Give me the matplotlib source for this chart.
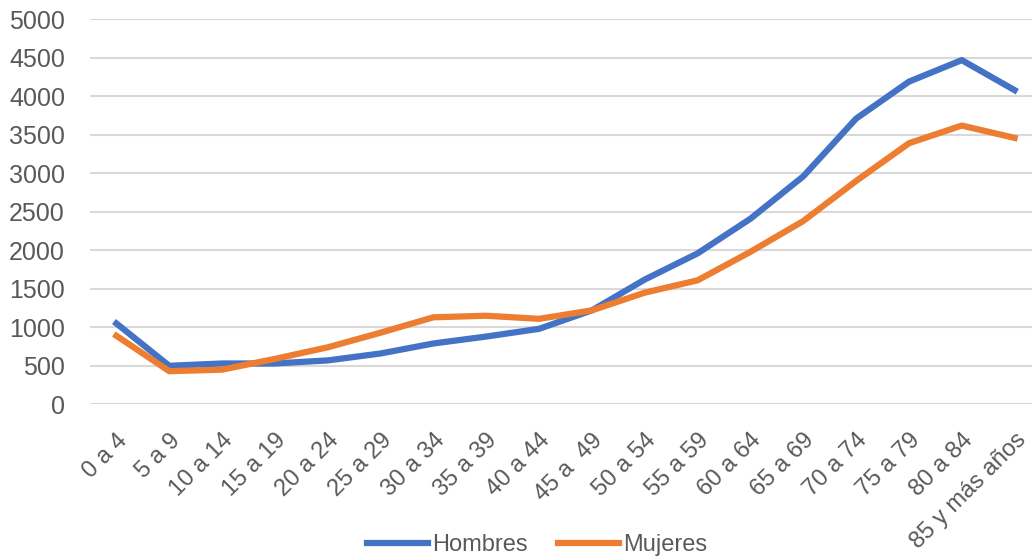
import matplotlib
matplotlib.use("Agg")
import matplotlib.pyplot as plt

plt.rcParams['font.family'] = ['Liberation Sans', 'DejaVu Sans']

grupos = ['0 a 4', '5 a 9', '10 a 14', '15 a 19', '20 a 24', '25 a 29', '30 a 34',
          '35 a 39', '40 a 44', '45 a  49', '50 a 54', '55 a 59', '60 a 64', '65 a 69',
          '70 a 74', '75 a 79', '80 a 84', '85 y más años']
hombres = [1050, 500, 530, 530, 570, 660, 790, 880, 980, 1220, 1620, 1960,
           2410, 2960, 3710, 4190, 4470, 4080]
mujeres = [890, 430, 450, 590, 740, 930, 1130, 1150, 1110, 1220, 1450, 1610,
           1980, 2380, 2900, 3390, 3620, 3460]
yticks = list(range(0, 5001, 500))

azul = '#4472C4'
naranja = '#ED7D31'
gris = '#595959'

fig = plt.figure(figsize=(10.32, 5.58), dpi=100)
ax = fig.add_axes([90/1032, 1 - 404.3/558, 951/1032, 385/558])

x = list(range(len(grupos)))
ax.plot(x, hombres, color=azul, lw=4.5, solid_joinstyle='round', label='Hombres')
ax.plot(x, mujeres, color=naranja, lw=4.5, solid_joinstyle='round', label='Mujeres')

ax.set_xlim(-0.5, len(grupos) - 0.5)
ax.set_ylim(0, 5000)
ax.set_yticks(yticks)
ax.set_yticklabels([str(v) for v in yticks], color=gris, fontsize=18)
ax.yaxis.grid(True, color='#D9D9D9', lw=1.5)
ax.set_axisbelow(True)
ax.tick_params(axis='both', length=0)
ax.tick_params(axis='y', pad=18)

ax.set_xticks(x)
ax.set_xticklabels(grupos, rotation=45, ha='right', rotation_mode='anchor',
                   color=gris, fontsize=17)
ax.tick_params(axis='x', pad=18)

for s in ax.spines.values():
    s.set_visible(False)

fig.legend(loc='center', bbox_to_anchor=(537/1032, 13/558), ncol=2, frameon=False,
           fontsize=17, labelcolor=gris, handlelength=2.6, handletextpad=0.15,
           columnspacing=1.3)

fig.savefig('out.png', dpi=100)
